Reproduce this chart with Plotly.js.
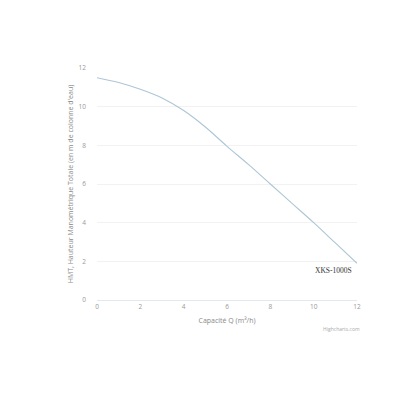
<!DOCTYPE html>
<html>
<head>
<meta charset="utf-8">
<script src="https://cdn.plot.ly/plotly-3.0.1.min.js"></script>
<style>html,body{margin:0;padding:0;background:#fff;}#chart{width:400px;height:400px;}</style>
</head>
<body>
<div id="chart"></div>
<script>
const capacity = [0, 1, 2, 3, 4, 5, 6, 7, 8, 9, 10, 11, 12];
const head = [11.5, 11.25, 10.9, 10.45, 9.8, 8.95, 7.95, 7.0, 6.0, 5.0, 4.0, 2.95, 1.9];
const seriesName = 'XKS-1000S';
const xTicks = [0, 2, 4, 6, 8, 10, 12];
const yTicks = [0, 2, 4, 6, 8, 10, 12];

const trace = {
  x: capacity, y: head, type: 'scatter', mode: 'lines',
  line: {color: '#adc6d6', width: 1.1, shape: 'spline'},
  name: seriesName, hoverinfo: 'x+y'
};

const layout = {
  width: 400, height: 400,
  margin: {l: 97, r: 43, t: 68, b: 100},
  paper_bgcolor: '#fff', plot_bgcolor: '#fff',
  showlegend: false,
  font: {family: 'Open Sans, DejaVu Sans, sans-serif', color: '#888'},
  xaxis: {
    range: [0, 12], tickvals: xTicks, showgrid: false, zeroline: false,
    showline: true, linecolor: '#e3e8ef', linewidth: 1,
    ticks: '', tickfont: {size: 6.5, color: '#999'},
    title: {text: 'Capacité Q (m³/h)', font: {size: 7, color: '#888'}, standoff: 8}
  },
  yaxis: {
    range: [0, 12], tickvals: yTicks, showgrid: true, gridcolor: '#f2f2f2', gridwidth: 1,
    zeroline: false, showline: false, ticks: '', ticklabelstandoff: 10,
    tickfont: {size: 6.5, color: '#999'},
    title: {text: "HMT, Hauteur Manométrique Totale (en m de colonne d'eau)", font: {size: 7, color: '#888'}, standoff: 4}
  },
  annotations: [
    {x: capacity[capacity.length-1], y: head[head.length-1], xref: 'x', yref: 'y',
     text: seriesName, showarrow: false, xanchor: 'right', yanchor: 'top', xshift: -3, yshift: -1,
     font: {family: 'Liberation Serif, DejaVu Serif, serif', size: 7.5, color: '#333'}},
    {x: 1, y: 0, xref: 'paper', yref: 'paper', text: 'Highcharts.com', showarrow: false,
     xanchor: 'right', yanchor: 'top', yshift: -24, xshift: 5,
     font: {size: 5, color: '#aaa'}}
  ]
};

Plotly.newPlot('chart', [trace], layout, {displayModeBar: false, staticPlot: true});
</script>
</body>
</html>
